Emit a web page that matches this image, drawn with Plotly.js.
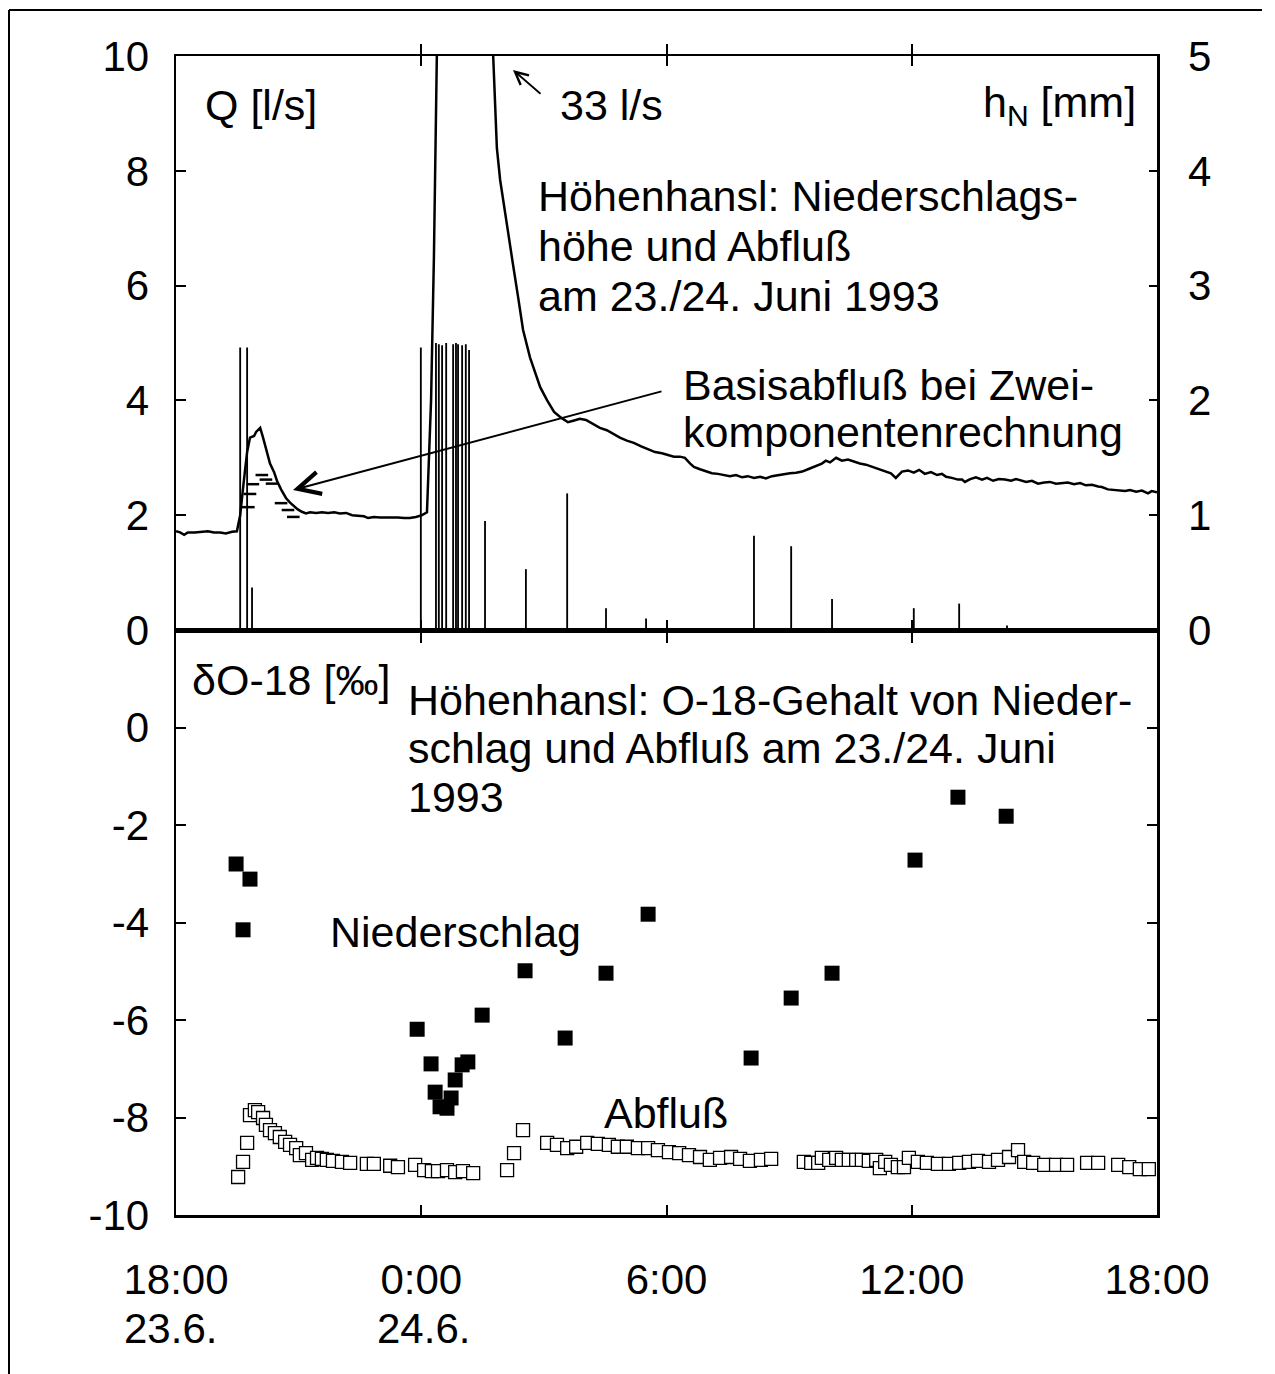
<!DOCTYPE html>
<html>
<head>
<meta charset="utf-8">
<script src="https://cdn.plot.ly/plotly-3.0.1.min.js"></script>
<style>html,body{margin:0;padding:0;background:#fff;}#chart{width:1275px;height:1374px;}</style>
</head>
<body>
<div id="chart"></div>
<script>
// ---- Data (time in hours after 18:00 on 23.6.1993) ----
const qTime = [0,0.10,0.20,0.29,0.46,0.64,0.78,0.93,1.08,1.22,1.37,1.49,1.57,1.66,1.74,1.81,1.91,1.96,2.06,2.13,2.23,2.30,2.40,2.47,2.57,2.69,2.79,2.89,2.98,3.08,3.18,3.28,3.43,3.57,3.72,3.87,4.01,4.16,4.31,4.45,4.60,4.70,4.84,4.99,5.14,5.28,5.43,5.58,5.72,5.87,6.02,6.14,6.24,6.31,6.39,6.65,6.85,7.19,7.56,7.76,7.85,7.93,8.10,8.24,8.37,8.49,8.66,8.91,9.08,9.25,9.42,9.59,9.74,9.88,10.03,10.18,10.37,10.54,10.72,10.86,11.03,11.20,11.38,11.55,11.72,11.89,12.04,12.18,12.33,12.45,12.58,12.67,12.82,12.97,13.11,13.26,13.41,13.55,13.70,13.85,13.99,14.14,14.29,14.43,14.58,14.73,14.87,15.02,15.17,15.32,15.46,15.61,15.71,15.80,15.90,16.00,16.15,16.29,16.44,16.59,16.73,16.88,17.05,17.20,17.35,17.49,17.61,17.76,17.91,18.05,18.18,18.32,18.47,18.62,18.74,18.84,18.98,19.13,19.23,19.30,19.43,19.57,19.72,19.84,19.99,20.13,20.28,20.43,20.55,20.65,20.80,20.94,21.09,21.24,21.38,21.53,21.68,21.82,21.97,22.12,22.26,22.41,22.56,22.65,22.80,22.95,23.10,23.22,23.34,23.49,23.63,23.78,23.87,24.00];
const qValue = [1.72,1.70,1.66,1.70,1.70,1.71,1.72,1.70,1.70,1.68,1.71,1.72,2.0,2.6,3.1,3.35,3.38,3.45,3.52,3.35,3.1,2.9,2.75,2.6,2.45,2.3,2.22,2.15,2.1,2.06,2.03,2.05,2.04,2.05,2.04,2.05,2.03,2.04,2.0,1.99,1.98,1.95,1.97,1.96,1.96,1.97,1.96,1.95,1.95,1.97,2.0,2.05,4.0,6.5,10.5,25,33,22,13,10.0,8.4,7.84,7.0,6.39,5.8,5.23,4.75,4.23,4.0,3.8,3.7,3.62,3.65,3.68,3.66,3.6,3.52,3.48,3.4,3.35,3.3,3.26,3.2,3.15,3.1,3.08,3.05,3.02,3.02,3.0,2.9,2.84,2.8,2.76,2.73,2.72,2.7,2.68,2.7,2.66,2.68,2.65,2.67,2.64,2.68,2.7,2.72,2.73,2.74,2.76,2.8,2.85,2.87,2.9,2.95,2.92,3.0,2.95,2.97,2.93,2.9,2.88,2.84,2.8,2.77,2.73,2.65,2.76,2.78,2.74,2.79,2.72,2.75,2.7,2.72,2.67,2.65,2.62,2.62,2.58,2.63,2.66,2.62,2.65,2.6,2.63,2.62,2.6,2.63,2.61,2.58,2.6,2.55,2.57,2.58,2.55,2.56,2.57,2.54,2.56,2.52,2.53,2.5,2.49,2.45,2.44,2.42,2.42,2.44,2.41,2.43,2.38,2.42,2.4];

const baseTime = [1.77,1.81,1.88,2.10,2.20,2.35,2.57,2.74,2.87];
const baseQ    = [2.14,2.37,2.54,2.70,2.62,2.55,2.21,2.09,1.97];

const rainTime = [1.57,1.74,1.86,5.99,6.36,6.43,6.51,6.61,6.78,6.85,6.90,7.00,7.09,7.17,7.56,8.56,9.57,10.52,11.50,14.14,15.05,16.05,18.05,19.16,20.33];
const rainMM   = [2.46,2.46,0.37,2.46,2.5,2.49,2.48,2.5,2.49,2.5,2.49,2.48,2.49,2.44,0.95,0.53,1.19,0.19,0.1,0.82,0.73,0.27,0.19,0.23,0.04];

const o18RainTime = [1.47,1.81,1.64,5.90,6.24,6.34,6.46,6.63,6.73,6.83,7.00,7.14,7.49,8.54,9.52,10.52,11.55,14.07,15.05,16.05,18.08,19.13,20.31];
const o18Rain     = [-2.8,-3.11,-4.15,-6.19,-6.9,-7.48,-7.78,-7.81,-7.6,-7.23,-6.92,-6.86,-5.9,-4.99,-6.37,-5.04,-3.83,-6.78,-5.55,-5.04,-2.72,-1.43,-1.82];

const o18RunoffTime = [1.52,1.64,1.74,1.81,1.93,2.01,2.13,2.20,2.30,2.42,2.54,2.67,2.79,2.94,3.03,3.18,3.33,3.45,3.57,3.69,3.84,4.06,4.26,4.67,4.84,5.24,5.43,5.85,6.07,6.26,6.41,6.63,6.83,7.02,7.27,8.10,8.27,8.49,9.08,9.32,9.57,9.79,10.06,10.32,10.59,10.81,11.03,11.30,11.55,11.79,12.06,12.31,12.55,12.82,13.06,13.31,13.58,13.80,14.04,14.31,14.56,15.36,15.54,15.71,15.80,15.98,16.15,16.29,16.46,16.64,16.78,16.95,17.13,17.22,17.35,17.49,17.66,17.81,17.93,18.15,18.37,18.64,18.91,19.16,19.40,19.62,19.89,20.11,20.38,20.60,20.75,20.97,21.24,21.53,21.80,22.29,22.56,23.05,23.32,23.58,23.80];
const o18Runoff     = [-9.22,-8.91,-8.52,-7.95,-7.85,-7.89,-8.01,-8.15,-8.26,-8.32,-8.40,-8.50,-8.56,-8.63,-8.77,-8.73,-8.87,-8.83,-8.85,-8.87,-8.89,-8.91,-8.93,-8.95,-8.95,-8.99,-9.02,-8.97,-9.08,-9.10,-9.10,-9.08,-9.12,-9.10,-9.14,-9.08,-8.73,-8.26,-8.52,-8.56,-8.63,-8.60,-8.52,-8.54,-8.56,-8.60,-8.60,-8.63,-8.63,-8.67,-8.71,-8.73,-8.77,-8.81,-8.87,-8.83,-8.81,-8.85,-8.89,-8.87,-8.85,-8.91,-8.93,-8.93,-8.83,-8.87,-8.83,-8.87,-8.87,-8.87,-8.87,-8.89,-8.87,-9.04,-8.91,-8.97,-9.02,-9.02,-8.83,-8.91,-8.93,-8.95,-8.95,-8.93,-8.91,-8.89,-8.91,-8.87,-8.81,-8.67,-8.91,-8.93,-8.97,-8.97,-8.97,-8.93,-8.93,-8.97,-9.02,-9.06,-9.06];

const xTickVals = [0,6,12,18,24];
const xTickText = ['18:00','0:00','6:00','12:00','18:00'];
const dateLabels = ['23.6.','24.6.'];
const dateLabelPos = [0,6];
const qTickVals = [0,2,4,6,8,10];
const hTickVals = [0,1,2,3,4,5];
const dTickVals = [-10,-8,-6,-4,-2,0];
const dTickText = ['-10','-8','-6','-4','-2','0'];

// ---- Layout helpers (pixel -> paper) ----
const L = 176, R = 1157, T = 56, B = 1215;
const px = x => (x - L) / (R - L);
const py = y => (B - y) / (B - T);
const FONT = 'Liberation Sans, Arial, Helvetica, sans-serif';
const FS = 42;
const FA = 43;

const traces = [
  {type:'bar', x:rainTime, y:rainMM, xaxis:'x2', yaxis:'y3', width:0.045,
   marker:{color:'#000', line:{width:0}}, hoverinfo:'skip'},
  {type:'scatter', mode:'lines', x:qTime, y:qValue, xaxis:'x2', yaxis:'y',
   line:{color:'#000', width:2.5}},
  {type:'scatter', mode:'markers', x:baseTime, y:baseQ, xaxis:'x2', yaxis:'y',
   marker:{symbol:'line-ew', size:9, line:{color:'#000', width:2.5}}},
  {type:'scatter', mode:'markers', x:o18RunoffTime, y:o18Runoff, xaxis:'x', yaxis:'y2',
   marker:{symbol:'square', size:13, color:'#fff', line:{color:'#000', width:1.3}}},
  {type:'scatter', mode:'markers', x:o18RainTime, y:o18Rain, xaxis:'x', yaxis:'y2',
   marker:{symbol:'square', size:15, color:'#000', line:{width:0}}}
];

const ax = {showgrid:false, zeroline:false, showline:true, linecolor:'#000', linewidth:2.5,
            ticks:'inside', tickcolor:'#000', tickwidth:2, tickfont:{family:FONT, size:FS, color:'#000'}};

function ann(text, x, y, extra) {
  return Object.assign({text:text, xref:'paper', yref:'paper', x:px(x), y:py(y),
    xanchor:'left', yanchor:'middle', showarrow:false,
    font:{family:FONT, size:FA, color:'#000'}}, extra || {});
}

const annotations = [
  ann('Q [l/s]', 203, 105),
  ann('h<sub>N</sub> [mm]', 1138, 105, {xanchor:'right'}),
  ann('33 l/s', 558, 105),
  ann('Höhenhansl: Niederschlags-', 536, 196),
  ann('höhe und Abfluß', 536, 246),
  ann('am 23./24. Juni 1993', 536, 296),
  ann('Basisabfluß bei Zwei-', 681, 385),
  ann('komponentenrechnung', 681, 432),
  ann('δO-18 [‰]', 190, 680),
  ann('Höhenhansl: O-18-Gehalt von Nieder-', 406, 700),
  ann('schlag und Abfluß am 23./24. Juni', 406, 748),
  ann('1993', 406, 797),
  ann('Niederschlag', 328, 932),
  ann('Abfluß', 602, 1113),
  {text:'', xref:'paper', yref:'paper', x:px(293), y:py(490), showarrow:true,
   ax:370, ay:-99, arrowhead:5, arrowsize:2.2, arrowwidth:2, arrowcolor:'#000'},
  {text:'', xref:'paper', yref:'paper', x:px(513), y:py(70), showarrow:true,
   ax:29, ay:25, arrowhead:5, arrowsize:1.4, arrowwidth:1.8, arrowcolor:'#000'}
];
dateLabels.forEach((t, i) => {
  annotations.push({text:t, xref:'x', yref:'paper', x:dateLabelPos[i], y:py(1328),
    xanchor:'center', yanchor:'middle', showarrow:false, xshift:(i === 0 ? -6 : 2),
    font:{family:FONT, size:FS, color:'#000'}});
});

const layout = {
  width:1275, height:1374,
  margin:{l:L, r:1275-R, t:T, b:1374-B, pad:0},
  paper_bgcolor:'#fff', plot_bgcolor:'rgba(0,0,0,0)',
  showlegend:false,
  font:{family:FONT, size:FS, color:'#000'},
  xaxis: Object.assign({}, ax, {domain:[0,1], anchor:'y2', range:[0,24], tickvals:xTickVals, ticktext:xTickText,
          ticklen:10, mirror:'allticks', ticklabelstandoff:26}),
  xaxis2: Object.assign({}, ax, {domain:[0,1], anchor:'y', matches:'x', range:[0,24], tickvals:xTickVals,
          showticklabels:false, ticklen:10, mirror:'allticks'}),
  yaxis: Object.assign({}, ax, {domain:[py(630),1], anchor:'x2', range:[0,10], tickvals:qTickVals,
          ticklen:10, ticklabelstandoff:16}),
  yaxis3: Object.assign({}, ax, {overlaying:'y', side:'right', anchor:'x2', range:[0,5], tickvals:hTickVals,
          ticklen:8, ticklabelstandoff:20}),
  yaxis2: Object.assign({}, ax, {domain:[0,py(630)], anchor:'x', range:[-10,2], tickvals:dTickVals, ticktext:dTickText,
          ticklen:10, mirror:'allticks', ticklabelstandoff:16}),
  annotations: annotations,
  shapes:[
    {type:'line', xref:'paper', yref:'paper', x0:px(9), x1:px(9), y0:py(10), y1:py(1374), line:{color:'#000', width:2}},
    {type:'line', xref:'paper', yref:'paper', x0:px(9), x1:px(1262), y0:py(10), y1:py(10), line:{color:'#000', width:2}}
  ]
};

Plotly.newPlot('chart', traces, layout, {staticPlot:true, displayModeBar:false});
</script>
</body>
</html>
